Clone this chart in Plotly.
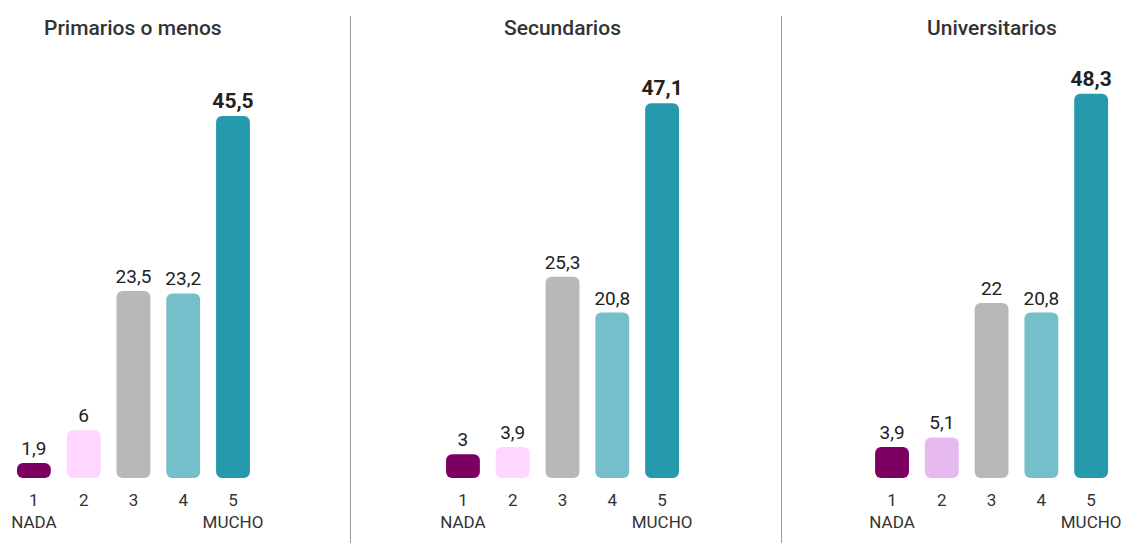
import plotly.graph_objects as go

categories = [1, 2, 3, 4, 5]
tick_labels = ["1<br>NADA", "2", "3", "4", "5<br>MUCHO"]
panel_titles = ["Primarios o menos", "Secundarios", "Universitarios"]
primarios = [1.9, 6, 23.5, 23.2, 45.5]
secundarios = [3, 3.9, 25.3, 20.8, 47.1]
universitarios = [3.9, 5.1, 22, 20.8, 48.3]
series = [primarios, secundarios, universitarios]

colors_common = ["#7b0062", "#ffd6ff", "#b8b8b8", "#75bfca", "#259aad"]
colors_univ = ["#7b0062", "#e6b9ef", "#b8b8b8", "#75bfca", "#259aad"]
panel_colors = [colors_common, colors_common, colors_univ]

OFF = 8  # browser body margin
W, H = 1129 - OFF, 543 - OFF
FONT = "Roboto"
TXT = "#333333"

base_px = 478 - OFF
top_px = 40.4 - OFF
ymax = 55
panel_left = [9 - OFF, 440 - OFF, 871 - OFF]
panel_w = 250

fig = go.Figure()

def fmt(v):
    return ("%g" % v).replace(".", ",")

for i, vals in enumerate(series):
    xa = "x" if i == 0 else f"x{i+1}"
    ya = "y" if i == 0 else f"y{i+1}"
    texts = [fmt(v) for v in vals]
    texts[-1] = "<span style='font-size:21px'><b>" + texts[-1] + "</b></span>"
    fig.add_trace(go.Bar(
        x=categories, y=vals, base=[0] * len(vals),
        marker=dict(color=panel_colors[i], cornerradius=6, line=dict(width=0)),
        text=texts, textposition="outside", cliponaxis=False, constraintext="none",
        textfont=dict(family=FONT, size=19, color="#222222"),
        xaxis=xa, yaxis=ya, showlegend=False, hoverinfo="skip",
    ))

layout = dict(
    width=W, height=H,
    margin=dict(l=0, r=0, t=0, b=0),
    paper_bgcolor="white", plot_bgcolor="white",
    barmode="overlay", bargap=0.32,
    font=dict(family=FONT, color=TXT),
    shapes=[], annotations=[],
)

ydom = [(H - base_px) / H, (H - top_px) / H]
for i in range(3):
    xk = "xaxis" if i == 0 else f"xaxis{i+1}"
    yk = "yaxis" if i == 0 else f"yaxis{i+1}"
    l = panel_left[i]
    layout[xk] = dict(
        domain=[l / W, (l + panel_w) / W], range=[0.5, 5.5],
        tickvals=categories, ticktext=tick_labels,
        showgrid=False, zeroline=False, showline=False,
        ticks="", ticklabelstandoff=10,
        tickfont=dict(family=FONT, size=17, color=TXT),
        anchor="y" if i == 0 else f"y{i+1}",
    )
    layout[yk] = dict(
        domain=ydom, range=[0, ymax], visible=False,
        anchor="x" if i == 0 else f"x{i+1}",
    )
    layout["annotations"].append(dict(
        text=panel_titles[i], xref="paper", yref="paper",
        x=(l + panel_w / 2) / W, y=1 - (28 - OFF) / H, xanchor="center", yanchor="middle",
        showarrow=False, font=dict(family=FONT, size=21, color=TXT, weight=500),
    ))

for xp in [352 - OFF, 785 - OFF]:
    layout["shapes"].append(dict(
        type="line", xref="paper", yref="paper",
        x0=xp / W, x1=xp / W, y0=0, y1=1 - (16 - OFF) / H,
        line=dict(color="#9a9a9a", width=1),
    ))

fig.update_layout(**layout)
fig.write_html("out.html")
